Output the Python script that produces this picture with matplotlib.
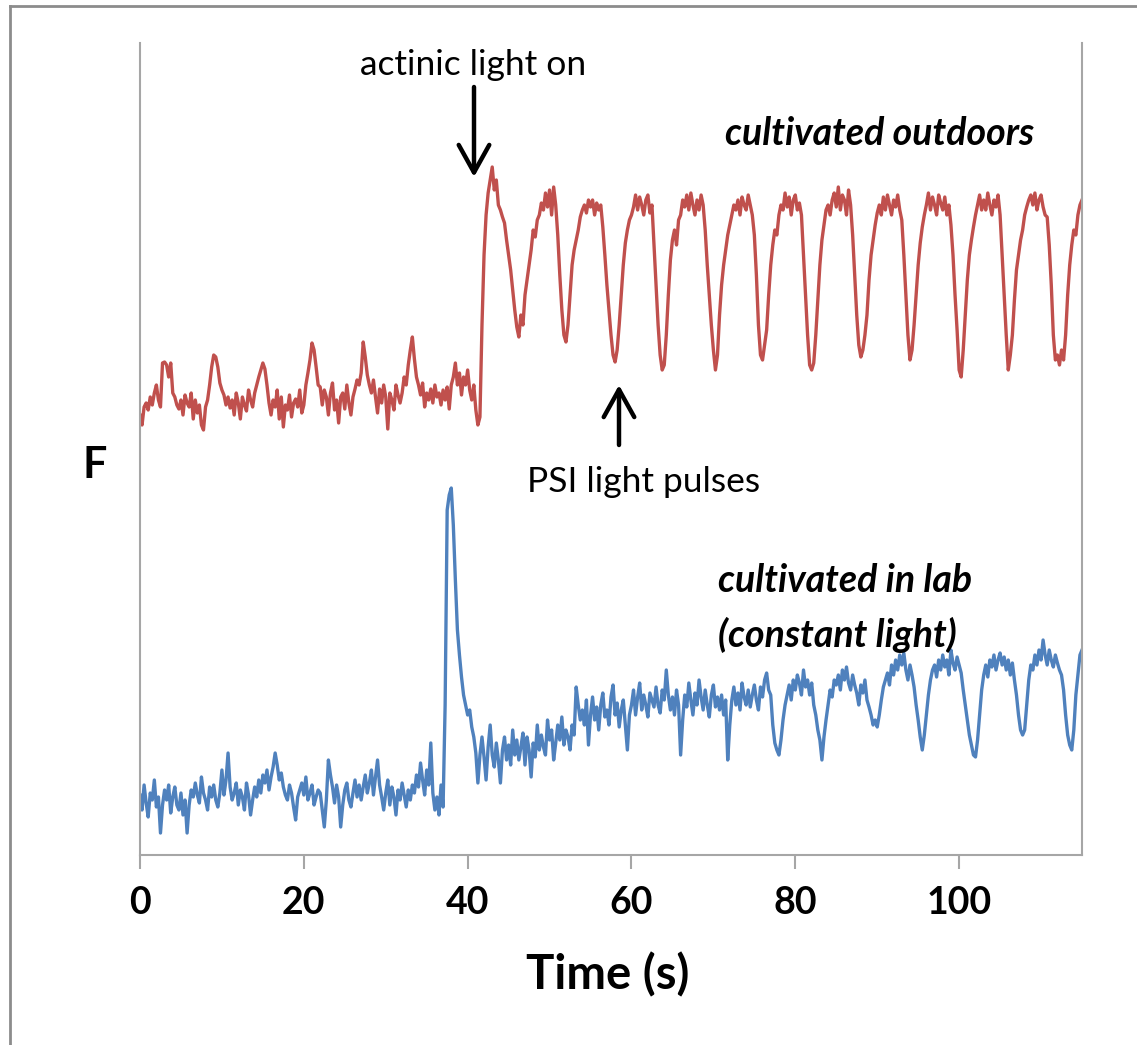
import numpy as np
import matplotlib
matplotlib.use("Agg")
import matplotlib.pyplot as plt
from matplotlib.lines import Line2D
from matplotlib.patches import FancyArrowPatch

# ---- data (relative fluorescence, arbitrary units), sampled every 0.25 s ----
sample_step_s = 0.25

outdoors_F = [
    440, 430, 448, 452,  445, 458, 450, 462,  470, 455, 448, 492,  493, 490, 478, 492,  462, 458, 450, 446,
    455, 440, 460, 452,  448, 462, 436, 455,  442, 450, 430, 425,  448, 455, 470, 488,  500, 498, 488, 472,
    465, 460, 450, 458,  447, 455, 440, 462,  452, 436, 458, 450,  444, 465, 455, 448,  462, 470, 478, 485,
    492, 486, 470, 452,  440, 455, 448, 465,  436, 458, 428, 450,  445, 460, 438, 452,  456, 448, 465, 442,
    450, 470, 482, 495,  512, 505, 488, 470,  468, 450, 465, 458,  440, 462, 472, 445,  455, 432, 458, 462,
    446, 470, 452, 440,  458, 466, 475, 470,  482, 513, 498, 480,  470, 462, 475, 458,  442, 466, 452, 470,
    458, 426, 462, 455,  445, 470, 460, 452,  462, 478, 470, 490,  505, 518, 496, 478,  470, 460, 472, 448,
    462, 455, 466, 452,  470, 458, 462, 450,  465, 455, 468, 446,  470, 478, 492, 470,  482, 460, 478, 470,
    485, 465, 455, 470,  445, 430, 438, 530,  600, 640, 662, 675,  688, 665, 675, 650,  645, 638, 632, 615,
    600, 585, 565, 545,  528, 518, 540, 530,  560, 575, 590, 605,  625, 618, 635, 640,  652, 645, 662, 648,
    665, 640, 668, 650,  620, 580, 545, 520,  513, 530, 560, 590,  605, 615, 625, 638,  645, 650, 642, 655,
    648, 655, 640, 652,  645, 650, 628, 600,  570, 545, 520, 500,  493, 505, 530, 560,  590, 612, 625, 635,
    640, 648, 660, 645,  658, 650, 640, 655,  660, 642, 650, 610,  570, 530, 500, 485,  490, 520, 560, 595,
    615, 625, 610, 635,  640, 655, 648, 660,  645, 662, 650, 640,  655, 645, 660, 650,  625, 590, 560, 530,
    505, 485, 500, 540,  570, 590, 605, 620,  630, 640, 650, 645,  655, 640, 658, 650,  645, 660, 650, 640,
    620, 580, 530, 500,  495, 510, 525, 560,  590, 610, 625, 620,  640, 650, 645, 662,  648, 658, 640, 655,
    660, 645, 652, 640,  600, 560, 520, 490,  485, 492, 520, 555,  590, 615, 630, 645,  650, 640, 655, 662,
    648, 668, 645, 660,  655, 640, 665, 650,  620, 580, 540, 510,  498, 505, 520, 540,  575, 600, 615, 630,
    642, 650, 640, 658,  645, 660, 650, 640,  655, 648, 660, 645,  635, 600, 560, 520,  495, 505, 530, 560,
    590, 612, 628, 640,  650, 662, 645, 658,  650, 640, 660, 652,  645, 658, 640, 650,  630, 600, 560, 525,
    485, 478, 505, 540,  575, 600, 615, 628,  640, 650, 660, 645,  655, 645, 662, 650,  640, 655, 648, 660,
    640, 600, 560, 520,  485, 500, 520, 555,  585, 600, 615, 625,  640, 648, 655, 660,  650, 662, 645, 655,
    660, 648, 640, 638,  610, 570, 520, 495,  500, 490, 505, 495,  520, 560, 590, 610,  625, 620, 640, 650,
    655,
]

lab_F = [
    60, 45, 70, 52,  38, 62, 55, 75,  48, 58, 22, 50,  65, 55, 70, 42,  58, 68, 50, 45,
    62, 40, 55, 22,  50, 65, 58, 72,  60, 52, 78, 62,  55, 45, 68, 58,  70, 55, 48, 62,
    85, 60, 75, 102,  68, 55, 62, 72,  50, 65, 58, 45,  72, 60, 40, 55,  68, 58, 75, 62,
    80, 72, 85, 65,  78, 88, 102, 90,  75, 82, 68, 60,  55, 70, 62, 48,  35, 58, 65, 72,
    60, 78, 55, 62,  70, 50, 58, 65,  62, 45, 28, 55,  95, 80, 68, 52,  70, 58, 28, 50,
    65, 72, 55, 48,  62, 75, 58, 70,  55, 68, 80, 62,  72, 85, 60, 78,  95, 70, 58, 45,
    62, 75, 50, 68,  58, 40, 65, 55,  72, 60, 48, 65,  55, 70, 62, 80,  68, 92, 75, 60,
    85, 70, 112, 62,  45, 58, 40, 70,  48, 150, 345, 360,  367, 330, 275, 225,  200, 178, 160, 150,
    140, 145, 128, 118,  102, 72, 100, 118,  98, 75, 108, 130,  100, 88, 112, 95,  72, 105, 118, 95,
    110, 90, 125, 100,  115, 95, 108, 122,  90, 118, 105, 78,  112, 98, 130, 105,  120, 108, 100, 135,
    115, 125, 95, 112,  130, 115, 138, 110,  125, 118, 105, 130,  120, 168, 150, 135,  145, 130, 155, 110,
    140, 158, 135, 148,  125, 150, 162, 138,  145, 130, 158, 170,  140, 152, 128, 145,  155, 130, 105, 140,
    150, 165, 140, 158,  172, 145, 160, 150,  138, 162, 155, 148,  168, 150, 142, 165,  155, 185, 160, 145,
    158, 140, 165, 150,  100, 135, 160, 148,  172, 155, 140, 162,  150, 175, 158, 145,  165, 150, 138, 160,
    170, 148, 158, 145,  160, 140, 155, 95,  130, 155, 168, 150,  162, 145, 172, 158,  150, 165, 148, 160,
    170, 155, 145, 168,  158, 175, 182, 165,  160, 130, 112, 105,  100, 115, 135, 150,  160, 170, 155, 175,
    165, 180, 172, 160,  185, 168, 175, 160,  172, 150, 140, 125,  115, 95, 118, 135,  150, 165, 158, 175,
    170, 180, 165, 185,  175, 188, 172, 165,  180, 170, 162, 150,  170, 162, 175, 155,  148, 140, 130, 135,
    128, 140, 155, 168,  175, 182, 170, 190,  180, 195, 185, 200,  190, 202, 185, 175,  190, 180, 168, 150,
    135, 118, 105, 120,  140, 160, 175, 185,  190, 178, 195, 185,  200, 188, 195, 180,  205, 192, 185, 198,
    190, 182, 165, 150,  135, 120, 110, 100,  98, 115, 140, 165,  180, 190, 178, 195,  188, 200, 185, 195,
    202, 190, 198, 185,  195, 180, 192, 175,  160, 140, 125, 120,  125, 150, 175, 190,  185, 200, 190, 205,
    195, 215, 200, 190,  205, 195, 188, 200,  192, 185, 180, 165,  140, 120, 110, 105,  125, 160, 180, 200,
    205,
]

x_ticks = [0, 20, 40, 60, 80, 100]
x_limits = (0, 115)
y_limits = (0, 812)

outdoors_color = "#C0504D"
lab_color = "#4F81BD"
spine_color = "#A6A6A6"

W, H = 1137, 1045
fig = plt.figure(figsize=(W / 100, H / 100), dpi=100)
fig.patch.set_facecolor("white")

def fx(px):
    return px / W

def fy(py):
    return 1 - py / H

ax = fig.add_axes([fx(140), fy(855), fx(1082) - fx(140), fy(43) - fy(855)])

t_out = np.arange(len(outdoors_F)) * sample_step_s
t_lab = np.arange(len(lab_F)) * sample_step_s
ax.plot(t_out, outdoors_F, color=outdoors_color, lw=2.4, solid_joinstyle="round")
ax.plot(t_lab, lab_F, color=lab_color, lw=2.4, solid_joinstyle="round")

ax.set_xlim(*x_limits)
ax.set_ylim(*y_limits)
ax.set_xticks(x_ticks)
ax.set_xticklabels([str(v) for v in x_ticks])
ax.set_yticks([])
for s in ["left", "bottom", "right"]:
    ax.spines[s].set_color(spine_color)
    ax.spines[s].set_linewidth(1.5)
ax.spines["top"].set_visible(False)
ax.tick_params(axis="x", direction="out", length=10, width=1.5, color=spine_color,
               pad=12, labelsize=27)
for lab in ax.get_xticklabels():
    lab.set_fontfamily("Lato")
    lab.set_fontweight("bold")

fig.text(fx(608), fy(975), "Time (s)", ha="center", va="center",
         fontsize=34, fontweight="bold", family="Lato")
fig.text(fx(95), fy(465), "F", ha="center", va="center",
         fontsize=31, fontweight="bold", family="Lato")

fig.text(fx(360), fy(75), "actinic light on", ha="left", va="baseline",
         fontsize=25.5, family="Lato")
fig.text(fx(527), fy(492), "PSI light pulses", ha="left", va="baseline",
         fontsize=25.5, family="Lato")
fig.text(fx(725), fy(145), "cultivated outdoors", ha="left", va="baseline",
         fontsize=27, family="Lato", fontweight="bold", style="italic")
fig.text(fx(718), fy(592), "cultivated in lab", ha="left", va="baseline",
         fontsize=27, family="Lato", fontweight="bold", style="italic")
fig.text(fx(718), fy(647), "(constant light)", ha="left", va="baseline",
         fontsize=27, family="Lato", fontweight="bold", style="italic")

arrow_kw = dict(arrowstyle="->,head_length=0.9,head_width=0.5", lw=3.2, color="black",
                shrinkA=0, shrinkB=0)
fig.add_artist(FancyArrowPatch((fx(474), fy(87)), (fx(474), fy(177)),
               transform=fig.transFigure, mutation_scale=22, **arrow_kw))
fig.add_artist(FancyArrowPatch((fx(619), fy(445)), (fx(619), fy(385)),
               transform=fig.transFigure, mutation_scale=22, **arrow_kw))

# outer frame (left and top edges visible in the reference)
fig.add_artist(Line2D([fx(10), fx(10)], [fy(6), 0], transform=fig.transFigure,
                      color="#8C8C8C", lw=2))
fig.add_artist(Line2D([fx(10), 1], [fy(6), fy(6)], transform=fig.transFigure,
                      color="#8C8C8C", lw=2))

fig.savefig("out.png", dpi=100)
